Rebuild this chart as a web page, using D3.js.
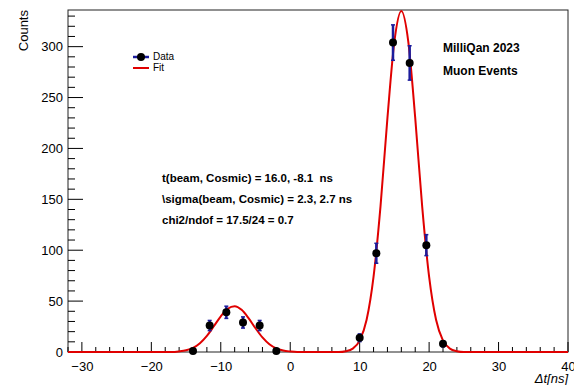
<!DOCTYPE html>
<html>
<head>
<meta charset="utf-8">
<script src="https://cdn.jsdelivr.net/npm/d3@7"></script>
<style>
  body { margin: 0; background: #fff; }
  svg { display: block; font-family: "Liberation Sans", Arial, sans-serif; }
</style>
</head>
<body>
<svg id="chart" width="574" height="385"></svg>
<script>
// histogram points (bin centres in ns)
const binCenters = [-14, -11.6, -9.2, -6.8, -4.4, -2.0, 10.0, 12.4, 14.8, 17.2, 19.6, 22.0];
const counts     = [1, 26, 39, 29, 26, 1, 14, 97, 304, 284, 105, 8];
const errors     = [1, 5, 6, 5.5, 5, 1, 3.8, 9.8, 17.4, 16.9, 10.3, 2.9];

// fit curve
const fitX = [-32, -17, -16, -15, -14, -13, -12, -11, -10, -9, -8, -7, -6, -5, -4, -3, -2, -1, 0, 1,
              7, 8, 9, 10, 11, 12, 13, 14, 15, 16, 17, 18, 19, 20, 21, 22, 23, 24, 25, 40];
const fitY = [0, 0, 0.6, 1.7, 4.1, 8.7, 15.9, 25.3, 35.1, 42.5, 45, 41.4, 33.3, 23.3, 14.3, 7.6, 3.5, 1.4, 0.5, 0,
              0, 0.8, 3.3, 11.2, 31.6, 74, 143, 230, 305, 335, 305, 230, 143, 74, 31.6, 11.2, 3.3, 0.8, 0, 0];

const xTicks = [-30, -20, -10, 0, 10, 20, 30, 40];
const yTicks = [0, 50, 100, 150, 200, 250, 300];
const fitLines = [
  "t(beam, Cosmic) = 16.0, -8.1  ns",
  "\\sigma(beam, Cosmic) = 2.3, 2.7 ns",
  "chi2/ndof = 17.5/24 = 0.7"
];

const svg = d3.select("#chart");
const margin = {top: 10, right: 6, bottom: 33, left: 68};
const width = 574 - margin.left - margin.right;
const height = 385 - margin.top - margin.bottom;

const xScale = d3.scaleLinear().domain([-32, 40]).range([margin.left, margin.left + width]);
const yScale = d3.scaleLinear().domain([0, 336]).range([margin.top + height, margin.top]);

const errColor = "#1c1c9c";
const fitColor = "#e00000";

// frame
svg.append("rect")
  .attr("x", margin.left).attr("y", margin.top)
  .attr("width", width).attr("height", height)
  .attr("fill", "none").attr("stroke", "#222").attr("stroke-width", 1);

// minor ticks
const g = svg.append("g");
d3.range(-32, 40.01, 2).forEach(v => {
  g.append("line")
    .attr("x1", xScale(v)).attr("x2", xScale(v))
    .attr("y1", yScale(0)).attr("y2", yScale(0) - (v % 10 === 0 ? 10 : 5))
    .attr("stroke", "#000");
});
d3.range(0, 336, 10).forEach(v => {
  g.append("line")
    .attr("x1", xScale(-32)).attr("x2", xScale(-32) + (v % 50 === 0 ? 15 : 7))
    .attr("y1", yScale(v)).attr("y2", yScale(v))
    .attr("stroke", "#000");
});

// axis labels
svg.append("g")
  .attr("transform", `translate(0,${yScale(0)})`)
  .call(d3.axisBottom(xScale).tickValues(xTicks).tickSize(0).tickPadding(10)
    .tickFormat(d => d < 0 ? "\u2212" + Math.abs(d) : d))
  .call(a => a.select(".domain").remove())
  .selectAll("text").attr("font-size", 13).attr("font-family", "Liberation Sans, Arial, sans-serif");

svg.append("g")
  .attr("transform", `translate(${margin.left},0)`)
  .call(d3.axisLeft(yScale).tickValues(yTicks).tickSize(0).tickPadding(5))
  .call(a => a.select(".domain").remove())
  .selectAll("text").attr("font-size", 13).attr("font-family", "Liberation Sans, Arial, sans-serif");

svg.append("text")
  .attr("transform", "translate(28,10) rotate(-90)")
  .attr("text-anchor", "end")
  .attr("font-size", 13)
  .text("Counts");

svg.append("text")
  .attr("x", 568).attr("y", 383)
  .attr("text-anchor", "end")
  .attr("font-size", 13)
  .attr("font-style", "italic")
  .text("\u0394t[ns]");

// fit curve
const line = d3.line()
  .x((d, i) => xScale(fitX[i]))
  .y(d => yScale(d))
  .curve(d3.curveMonotoneX);
svg.append("path")
  .datum(fitY)
  .attr("d", line)
  .attr("fill", "none")
  .attr("stroke", fitColor)
  .attr("stroke-width", 2);

// error bars and points
const pts = svg.append("g");
binCenters.forEach((c, i) => {
  const x = xScale(c);
  const y0 = yScale(counts[i] - errors[i]);
  const y1 = yScale(counts[i] + errors[i]);
  pts.append("line").attr("x1", x).attr("x2", x).attr("y1", y0).attr("y2", y1)
    .attr("stroke", errColor).attr("stroke-width", 2.5);
  [y0, y1].forEach(yy => {
    pts.append("line").attr("x1", x - 2).attr("x2", x + 2).attr("y1", yy).attr("y2", yy)
      .attr("stroke", errColor).attr("stroke-width", 1.5);
  });
  pts.append("circle").attr("cx", x).attr("cy", yScale(counts[i])).attr("r", 4).attr("fill", "#000");
});

// legend
const leg = svg.append("g");
leg.append("line").attr("x1", 133).attr("x2", 149).attr("y1", 57).attr("y2", 57)
  .attr("stroke", errColor).attr("stroke-width", 2.5);
leg.append("circle").attr("cx", 141).attr("cy", 57).attr("r", 4).attr("fill", "#000");
leg.append("text").attr("x", 153).attr("y", 60).attr("font-size", 10).text("Data");
leg.append("line").attr("x1", 133).attr("x2", 149).attr("y1", 68).attr("y2", 68)
  .attr("stroke", fitColor).attr("stroke-width", 2);
leg.append("text").attr("x", 153).attr("y", 71).attr("font-size", 10).text("Fit");

// labels
svg.append("text").attr("x", 443).attr("y", 52).attr("font-size", 12).attr("font-weight", "bold")
  .text("MilliQan 2023");
svg.append("text").attr("x", 443).attr("y", 75).attr("font-size", 12).attr("font-weight", "bold")
  .text("Muon Events");

fitLines.forEach((t, i) => {
  svg.append("text").attr("x", 162).attr("y", 182 + i * 21)
    .attr("font-size", 11.5).attr("font-weight", "bold")
    .style("white-space", "pre").text(t);
});
</script>
</body>
</html>
